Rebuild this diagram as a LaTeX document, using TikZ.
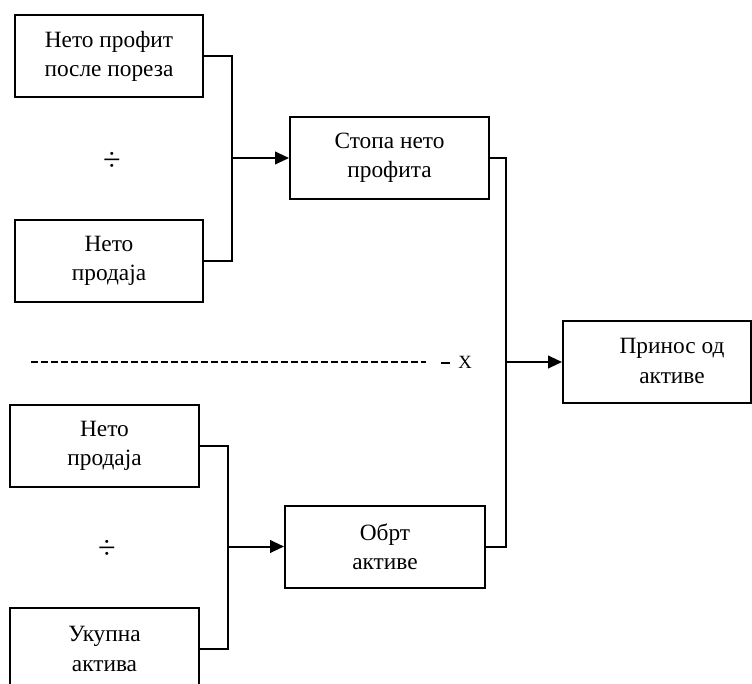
\documentclass[tikz,border=0pt]{standalone}
\usepackage{fontspec}
\setmainfont{Liberation Serif}
\usetikzlibrary{arrows.meta}
\begin{document}
\begin{tikzpicture}[x=0.75pt,y=-0.75pt,
  boxfont/.style={font=\fontsize{17.5}{21.8}\selectfont},
  box/.style={draw, line width=1.5pt, minimum width=#1*0.75pt, minimum height=82*0.75pt,
    align=center, boxfont, inner sep=0pt},
  box/.default=188,
  wire/.style={line width=1.5pt},
  feed/.style={line width=1.5pt, -{Triangle[length=10.5pt,width=9.5pt]}},
  divsign/.style={font=\fontsize{24}{26}\selectfont}]
\useasboundingbox (0,0) rectangle (752,684);
\clip (0,0) rectangle (752,684);

% first ratio: net profit margin
\node[box] (np)  at (109,56)   {Нето профит\\после пореза};
\node[box] (ns1) at (109,261)  {Нето\\продаја};
\node[divsign] (d1) at (112,161) {÷};
\node[box=199] (npm) at (389.5,158) {Стопа нето\\профита};

% second ratio: asset turnover
\node[box=189] (ns2) at (104.5,445.5) {Нето\\продаја};
\node[box=189] (ta)  at (104.5,649)   {Укупна\\актива};
\node[divsign] (d2) at (107,549) {÷};
\node[box=200] (at) at (385,546.5) {Обрт\\активе};

% result
\node[box] (roa) at (657,362) {};
\node[align=center, boxfont] (roat) at (672,361) {Принос од\\активе};

% junction columns
\coordinate (j1) at (232,0);
\coordinate (j2) at (228,0);
\coordinate (j3) at (506,0);

\draw[wire] (np.east) -- (np.east -| j1) -- (ns1.east -| j1) -- (ns1.east);
\draw[feed] (j1 |- npm.west) -- (npm.west);

\draw[wire] (ns2.east) -- (ns2.east -| j2) -- (ta.east -| j2) -- (ta.east);
\draw[feed] (j2 |- at.west) -- (at.west);

\draw[wire] (npm.east) -- (npm.east -| j3) -- (at.east -| j3) -- (at.east);
\draw[feed] (j3 |- roa.west) -- (roa.west);

% multiplication separator
\coordinate (m0) at (31,362);
\coordinate (m1) at (426,362);
\coordinate (m2) at (441,363);
\coordinate (m3) at (450,363);
\draw[line width=1.5pt, dash pattern=on 5.25pt off 2.25pt] (m0) -- (m1);
\draw[line width=1.3pt] (m2) -- (m3);
\node[font=\fontsize{14}{16}\selectfont] (mx) at (465,362) {X};
\end{tikzpicture}
\end{document}
